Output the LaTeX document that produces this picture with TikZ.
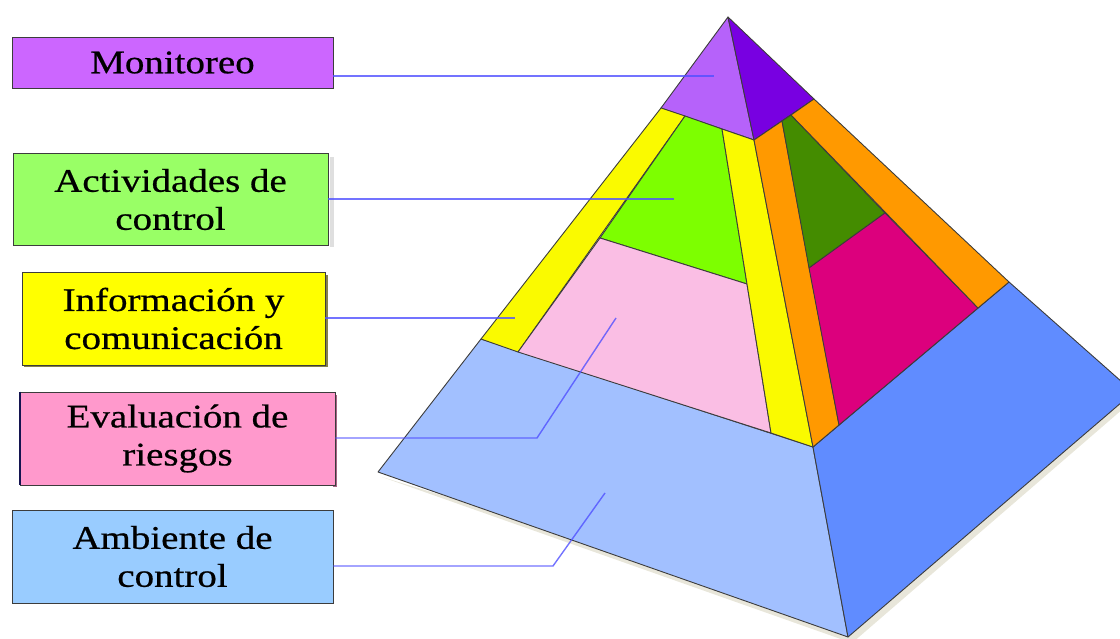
\documentclass[tikz,border=0pt]{standalone}
\usepackage{fontspec}
\newfontfamily\lblfont[FakeStretch=1.18,FakeBold=0.6]{Liberation Serif}
\definecolor{pLight}{RGB}{182,98,250}
\definecolor{pDark}{RGB}{120,0,225}
\definecolor{pYel}{RGB}{250,250,0}
\definecolor{pGreen}{RGB}{125,255,0}
\definecolor{pPink}{RGB}{250,190,228}
\definecolor{pOrange}{RGB}{255,153,0}
\definecolor{pDGreen}{RGB}{68,140,0}
\definecolor{pMag}{RGB}{220,0,125}
\definecolor{pFront}{RGB}{162,192,255}
\definecolor{pRight}{RGB}{96,140,255}
\definecolor{pShadow}{RGB}{232,230,218}
\definecolor{bMon}{RGB}{204,102,255}
\definecolor{bAct}{RGB}{153,255,102}
\definecolor{bInf}{RGB}{255,255,0}
\definecolor{bEva}{RGB}{255,153,204}
\definecolor{bAmb}{RGB}{153,204,255}
\definecolor{conn}{RGB}{80,80,255}
\definecolor{edge}{RGB}{60,60,60}
\tikzset{
  face/.style={draw=edge, line width=0.9pt, line join=round},
  labelbox/.style={draw=edge, line width=0.8pt, rectangle, align=center,
    font=\lblfont\fontsize{33}{38}\selectfont, inner sep=0pt},
  connector/.style={draw=conn, line width=1.4pt, opacity=0.8}
}
\begin{document}
\begin{tikzpicture}[x=1pt,y=-1pt]
\useasboundingbox (0,0) rectangle (1120,639);
% shadow of the base
\fill[pShadow] (382,477) -- (852,643) -- (1124,408) -- (1124,388) -- (852,620) -- cycle;
% base front and right faces
\fill[face, fill=pFront] (481,339) -- (813,447) -- (848,637) -- (378,472) -- cycle;
\fill[face, fill=pRight] (813,447) -- (1009,282) -- (1122,382) -- (1122,402) -- (848,637) -- cycle;
% top purple
\fill[face, fill=pLight] (728,17) -- (661,108) -- (754,140) -- cycle;
\fill[face, fill=pDark] (728,17) -- (754,140) -- (814,99) -- cycle;
% left face bands
\fill[face, fill=pYel] (661,108) -- (685,116) -- (518,352) -- (481,339) -- cycle;
\fill[face, fill=pGreen] (685,116) -- (722,129) -- (747,284) -- (600,238) -- cycle;
\fill[face, fill=pPink] (600,238) -- (747,284) -- (771,433) -- (518,352) -- cycle;
\fill[face, fill=pYel] (722,129) -- (754,140) -- (813,447) -- (771,433) -- cycle;
% right face bands
\fill[face, fill=pOrange] (754,140) -- (782,121) -- (839,425) -- (813,447) -- cycle;
\fill[face, fill=pDGreen] (782,121) -- (791,115) -- (885,213) -- (809,268) -- cycle;
\fill[face, fill=pMag] (809,268) -- (885,213) -- (978,308) -- (839,425) -- cycle;
\fill[face, fill=pOrange] (791,115) -- (814,99) -- (1009,282) -- (978,308) -- cycle;
% label box shadows
\fill[gray!25] (330,157) rectangle (334,247);
\fill[black!55!yellow] (325,275) rectangle (328,367);
\fill[black!55!yellow] (24,365) rectangle (328,367);
\fill[black!35!bEva] (333,395) rectangle (337,487);
% label boxes
\node[labelbox, fill=bMon, minimum width=321pt, minimum height=51pt] (mon) at (172.5,62.5) {Monitoreo};
\node[labelbox, fill=bAct, minimum width=315pt, minimum height=92pt] (act) at (170.5,199.5) {Actividades de\\control};
\node[labelbox, fill=bInf, minimum width=303pt, minimum height=93pt] (inf) at (173.5,318.5) {Información y\\comunicación};
\node[labelbox, fill=bEva, minimum width=315pt, minimum height=93pt] (eva) at (177.5,438.5) {Evaluación de\\riesgos};
\draw[line width=2.2pt, draw={rgb,255:red,20;green,20;blue,80}] (eva.north west) -- (eva.south west);
\node[labelbox, fill=bAmb, minimum width=321pt, minimum height=93pt] (amb) at (172.5,556.5) {Ambiente de\\control};
% connector end points
\coordinate (cMon) at (714,76);
\coordinate (cAct) at (674,199);
\coordinate (cInf) at (515,318);
\coordinate (cEvaK) at (537,438);
\coordinate (cEva) at (616,318);
\coordinate (cAmbK) at (553,566);
\coordinate (cAmb) at (605,493);
% connectors
\draw[connector] (cMon -| mon.east) -- (cMon);
\draw[connector] (cAct -| act.east) -- (cAct);
\draw[connector] (cInf -| inf.east) -- (cInf);
\draw[connector] (cEvaK -| eva.east) -- (cEvaK) -- (cEva);
\draw[connector] (cAmbK -| amb.east) -- (cAmbK) -- (cAmb);
\end{tikzpicture}
\end{document}
